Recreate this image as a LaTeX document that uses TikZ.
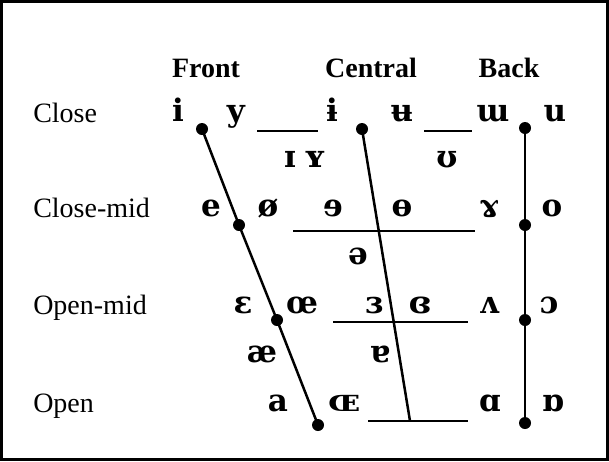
\documentclass[tikz,border=0pt]{standalone}
\usepackage{fontspec}
\setmainfont{Liberation Serif}
\newfontfamily\ipafont{DejaVu Serif}

\begin{document}
\begin{tikzpicture}[
		x=1pt, y=-1pt,
		every node/.style={inner sep=0pt, anchor=base, font=\fontsize{28}{32}\selectfont},
		row/.style={anchor=base west},
		head/.style={font=\fontsize{28}{32}\selectfont\bfseries},
		vow/.style={font=\ipafont\fontsize{31}{36}\selectfont\bfseries},
		dot/.style={circle, fill, minimum size=12pt, anchor=center},
		line width=2.5pt
	]
  \useasboundingbox (0,0) rectangle (609,461);
  \draw[line width=2.5pt] (1.5,1.5) rectangle (607.5,459.5);
  % column and row labels
  \node (front) [head] at (206, 77) {Front};
  \node (central) [head] at (371, 77) {Central};
  \node (back) [head] at (509, 77) {Back};
  \node (close) [row] at (32, 122) {Close};
  \node (closemid) [row] at (32, 217) {Close-mid};
  \node (openmid) [row] at (32, 314) {Open-mid};
  \node (open) [row] at (32, 412) {Open};
  % close
  \node (i) [vow] at (178, 121) {i};
  \node (y) [vow] at (236, 121) {y};
  \node (ibar) [vow] at (332, 121) {ɨ};
  \node (ubar) [vow] at (402, 121) {ʉ};
  \node (turnm) [vow] at (493, 121) {ɯ};
  \node (u) [vow] at (555, 121) {u};
  \node (smallI) [vow] at (290, 167) {ɪ};
  \node (smallY) [vow] at (315, 167) {ʏ};
  \node (upsilon) [vow] at (447, 167) {ʊ};
  % close-mid
  \node (e) [vow] at (211, 216) {e};
  \node (oslash) [vow] at (268, 216) {ø};
  \node (revE) [vow] at (333, 216) {ɘ};
  \node (barO) [vow] at (402, 216) {ɵ};
  \node (ramshorn) [vow] at (489, 216) {ɤ};
  \node (o) [vow] at (552, 216) {o};
  \node (schwa) [vow] at (358, 264) {ə};
  % open-mid
  \node (epsilon) [vow] at (243, 313) {ɛ};
  \node (oe) [vow] at (302, 313) {œ};
  \node (revEps) [vow] at (374, 313) {ɜ};
  \node (closedRevEps) [vow] at (420, 313) {ɞ};
  \node (wedge) [vow] at (489, 313) {ʌ};
  \node (openO) [vow] at (549, 313) {ɔ};
  \node (ash) [vow] at (262, 362) {æ};
  \node (turnA) [vow] at (380, 362) {ɐ};
  % open
  \node (a) [vow] at (278, 411) {a};
  \node (smallOE) [vow] at (344, 411) {ɶ};
  \node (alpha) [vow] at (490, 411) {ɑ};
  \node (turnAlpha) [vow] at (553, 411) {ɒ};
  % dots
  \node (f1) [dot] at (202, 129) {};
  \node (f2) [dot] at (239, 225) {};
  \node (f3) [dot] at (277, 320) {};
  \node (f4) [dot] at (318, 425) {};
  \node (c1) [dot] at (362, 129) {};
  \coordinate (c4) at (410, 421);
  \node (b1) [dot] at (525, 128) {};
  \node (b2) [dot] at (525, 225) {};
  \node (b3) [dot] at (525, 320) {};
  \node (b4) [dot] at (525, 423) {};
  % lines
  \coordinate (l1a) at (257, 131);
  \coordinate (l1b) at (318, 131);
  \coordinate (l2a) at (424, 131);
  \coordinate (l2b) at (472, 131);
  \coordinate (l3a) at (293, 231);
  \coordinate (l3b) at (475, 231);
  \coordinate (l4a) at (333, 322);
  \coordinate (l4b) at (468, 322);
  \coordinate (l5a) at (368, 421);
  \coordinate (l5b) at (468, 421);
  \draw (f1.center) -- (f2.center) -- (f3.center) -- (f4.center);
  \draw (c1.center) -- (c4);
  \draw (b1.center) -- (b2.center) -- (b3.center) -- (b4.center);
  \draw (l1a) -- (l1b);
  \draw (l2a) -- (l2b);
  \draw (l3a) -- (l3b);
  \draw (l4a) -- (l4b);
  \draw (l5a) -- (l5b);
\end{tikzpicture}
\end{document}
